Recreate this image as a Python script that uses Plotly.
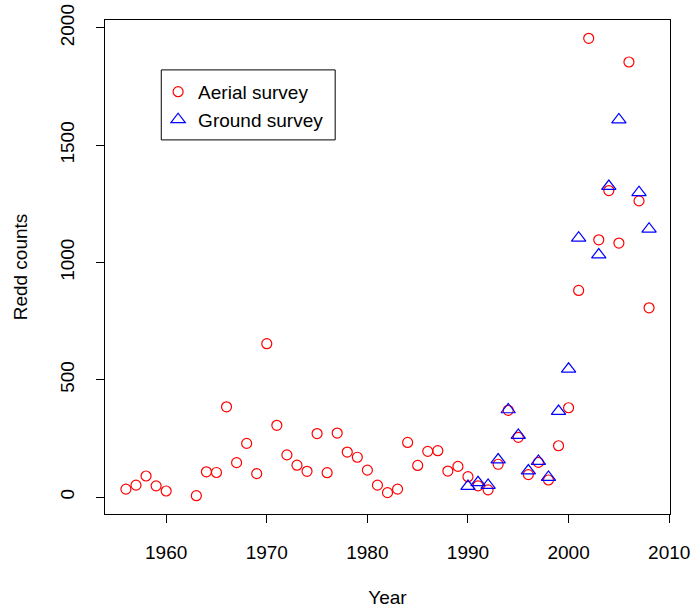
import plotly.graph_objects as go

aerial_years = [1956, 1957, 1958, 1959, 1960, 1963, 1964, 1965, 1966, 1967, 1968, 1969,
                1970, 1971, 1972, 1973, 1974, 1975, 1976, 1977, 1978, 1979, 1980, 1981,
                1982, 1983, 1984, 1985, 1986, 1987, 1988, 1989, 1990, 1991, 1992, 1993,
                1994, 1995, 1996, 1997, 1998, 1999, 2000, 2001, 2002, 2003, 2004, 2005,
                2006, 2007, 2008]
aerial_counts = [34, 51, 90, 48, 26, 6, 108, 105, 385, 147, 229, 100,
                 654, 306, 180, 136, 110, 271, 104, 273, 192, 170, 115, 51,
                 19, 34, 233, 135, 195, 198, 111, 131, 87, 48, 31, 140,
                 370, 255, 96, 148, 73, 219, 381, 881, 1956, 1097, 1307, 1083,
                 1855, 1263, 807]

ground_years = [1990, 1991, 1992, 1993, 1994, 1995, 1996, 1997, 1998, 1999, 2000,
                2001, 2003, 2004, 2005, 2007, 2008]
ground_counts = [46, 62, 51, 159, 373, 264, 112, 153, 85, 366, 546,
                 1105, 1033, 1325, 1609, 1299, 1143]

x_ticks = [1960, 1970, 1980, 1990, 2000, 2010]
y_ticks = [0, 500, 1000, 1500, 2000]

FONT = "Liberation Sans, Arial, sans-serif"
FS = 19

fig = go.Figure()
fig.add_trace(go.Scatter(
    x=aerial_years, y=aerial_counts, mode="markers", name="Aerial survey",
    marker=dict(symbol="circle-open", color="#FF0000", size=10, line=dict(width=1.2, color="#FF0000")),
))
fig.add_trace(go.Scatter(
    x=ground_years, y=ground_counts, mode="markers", name="Ground survey",
    marker=dict(symbol="triangle-up-open", color="#0000FF", size=12.5, line=dict(width=1.2, color="#0000FF")),
))

# R-style extended ranges (4% padding)
xr = (min(aerial_years), max(aerial_years))
yr = (min(aerial_counts + ground_counts), max(aerial_counts + ground_counts))
xpad = 0.04 * (xr[1] - xr[0])
ypad = 0.04 * (yr[1] - yr[0])

# legend frame (drawn as a shape so its padding matches)
fig.add_shape(type="rect", xref="paper", yref="paper",
              x0=0.0996, x1=0.4074, y0=0.7573, y1=0.899,
              line=dict(color="black", width=1), fillcolor="rgba(0,0,0,0)", layer="above")

fig.update_layout(
    width=694, height=612,
    margin=dict(l=105, r=24, t=20, b=97.5),
    paper_bgcolor="white", plot_bgcolor="white",
    font=dict(family=FONT, size=FS, color="black"),
    showlegend=True,
    hovermode=False,
    legend=dict(
        x=0.094, y=0.893, xanchor="left", yanchor="top",
        borderwidth=0, bgcolor="rgba(0,0,0,0)",
        font=dict(family=FONT, size=FS, color="black"),
        tracegroupgap=0, itemwidth=30,
    ),
    xaxis=dict(
        range=[xr[0] - xpad, xr[1] + xpad], tickvals=x_ticks,
        ticks="outside", ticklen=8, tickwidth=1, tickcolor="black",
        showline=True, linecolor="black", linewidth=1, mirror=True,
        showgrid=False, zeroline=False, ticklabelstandoff=13,
        ticklabeloverflow="allow",
        title=dict(text="Year", standoff=28, font=dict(size=FS)),
        automargin=False,
    ),
    yaxis=dict(
        range=[yr[0] - ypad, yr[1] + ypad], tickvals=y_ticks,
        ticks="outside", ticklen=8, tickwidth=1, tickcolor="black",
        showline=True, linecolor="black", linewidth=1, mirror=True,
        showgrid=False, zeroline=False, tickangle=-90, ticklabelstandoff=14,
        ticklabeloverflow="allow",
        title=dict(text="Redd counts", standoff=24, font=dict(size=FS)),
        automargin=False,
    ),
)

fig.write_html("out.html", config={"displayModeBar": False, "staticPlot": True},
               post_script="document.body.style.margin='0px';")
